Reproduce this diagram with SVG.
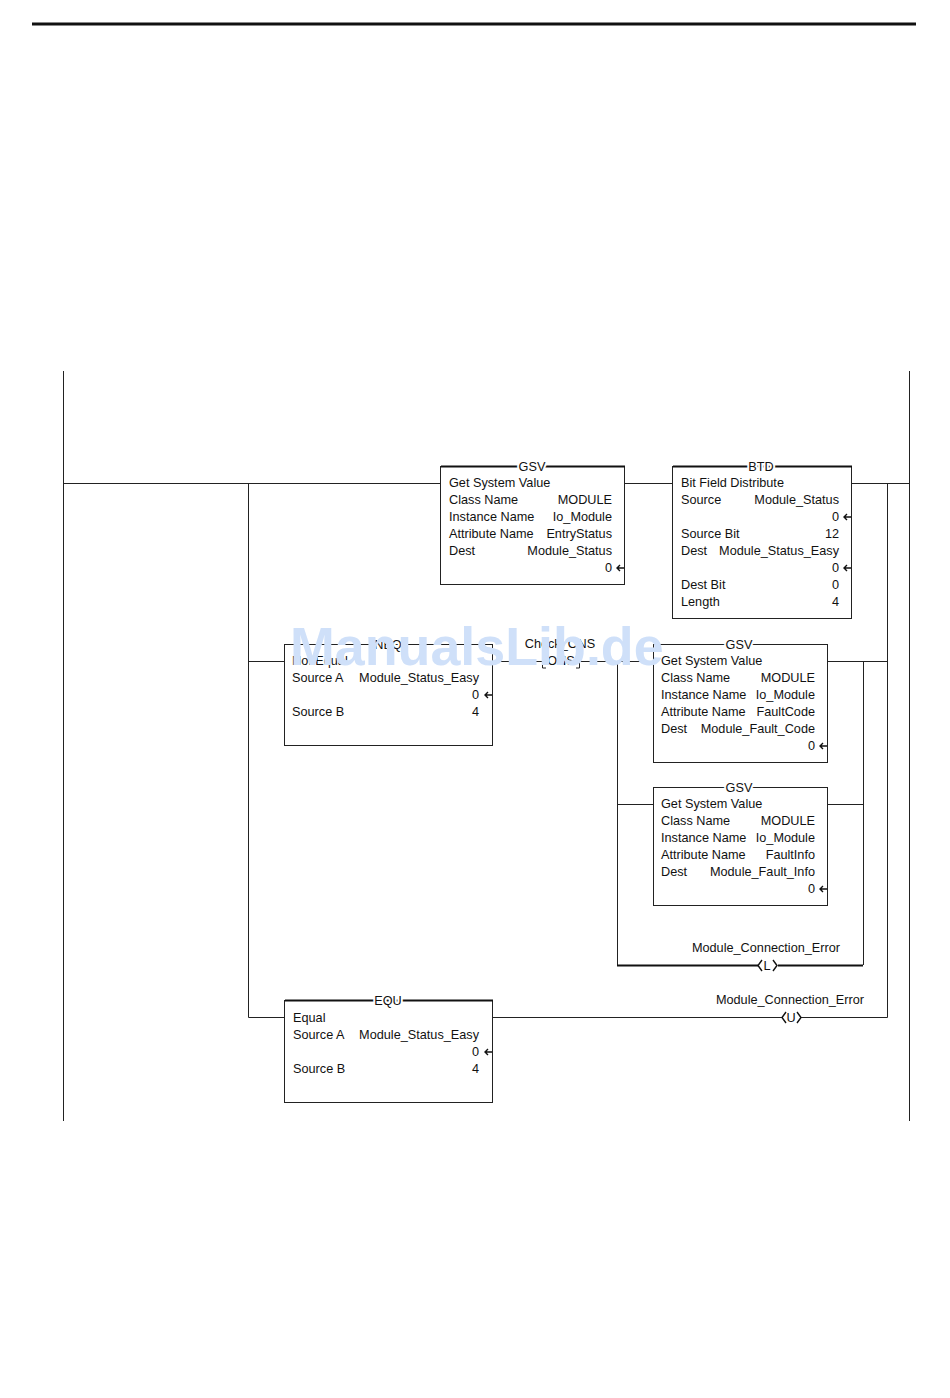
<svg xmlns="http://www.w3.org/2000/svg" width="950" height="1398" viewBox="0 0 950 1398">
<style>
text{font-family:"Liberation Sans",Arial,sans-serif;font-size:12.7px;fill:#111}
.e{text-anchor:end}.m{text-anchor:middle}
.h{paint-order:stroke;stroke:#fff;stroke-width:4px}
.b{fill:#fff;stroke:#222;stroke-width:1}
.t{stroke:#111;stroke-width:2;fill:none}
.l{stroke:#222;stroke-width:1;fill:none}
.a{fill:none;stroke:#111;stroke-width:1.4}
text.w{font-size:53.800px;font-weight:bold;fill:#cfe0f9}
</style>
<defs>
<g id="arr"><path class="a" d="M0 0H-7M-4 -3L-7 0L-4 3"/></g>
</defs>
<rect width="950" height="1398" fill="#fff"/>
<path d="M32 24H916" stroke="#111" stroke-width="3"/>
<g id="connectors">
<path class="l" d="M63.500 371V1121M909.500 371V1121"/>
<path class="l" d="M64 483.500H441M625 483.500H673M852 483.500H909"/>
<path class="l" d="M248.500 483V1017.500H285M248 661.500H285M493 661.500H542M580 661.500H654M828 661.500H887"/>
<path class="l" d="M887.500 483V1017.500H800M782 1017.500H493"/>
<path class="l" d="M617.500 661V965M617 804.500H654M828 804.500H863.500M863.500 661V965"/>
<path class="t" d="M617 965.500H758M778 965.500H863"/>
</g>
<g id="gsv1">
<rect class="b" x="440.500" y="466.500" width="184" height="118"/>
<path class="t" d="M441 466.500H625"/>
<text class="m h" x="532" y="470.500">GSV</text>
<text x="449" y="487">Get System Value</text>
<text x="449" y="504">Class Name</text><text class="e" x="612" y="504">MODULE</text>
<text x="449" y="521">Instance Name</text><text class="e" x="612" y="521">Io_Module</text>
<text x="449" y="538">Attribute Name</text><text class="e" x="612" y="538">EntryStatus</text>
<text x="449" y="555">Dest</text><text class="e" x="612" y="555">Module_Status</text>
<text class="e" x="612" y="572">0</text><use href="#arr" x="624" y="568"/>
</g>
<g id="btd">
<rect class="b" x="672.500" y="466.500" width="179" height="152"/>
<path class="t" d="M673 466.500H852"/>
<text class="m h" x="761" y="470.500">BTD</text>
<text x="681" y="487">Bit Field Distribute</text>
<text x="681" y="504">Source</text><text class="e" x="839" y="504">Module_Status</text>
<text class="e" x="839" y="521">0</text><use href="#arr" x="851" y="517"/>
<text x="681" y="538">Source Bit</text><text class="e" x="839" y="538">12</text>
<text x="681" y="555">Dest</text><text class="e" x="839" y="555">Module_Status_Easy</text>
<text class="e" x="839" y="572">0</text><use href="#arr" x="851" y="568"/>
<text x="681" y="589">Dest Bit</text><text class="e" x="839" y="589">0</text>
<text x="681" y="606">Length</text><text class="e" x="839" y="606">4</text>
</g>
<g id="neq">
<rect class="b" x="284.500" y="644.500" width="208" height="101"/>
<text class="m h" x="388" y="648.500">NEQ</text>
<text x="292" y="665">Not Equal</text>
<text x="292" y="682">Source A</text><text class="e" x="479" y="682">Module_Status_Easy</text>
<text class="e" x="479" y="699">0</text><use href="#arr" x="492" y="695"/>
<text x="292" y="716">Source B</text><text class="e" x="479" y="716">4</text>
</g>
<g id="ons">
<text class="m" x="560" y="648">Check_ONS</text>
<path d="M546 655H542.500V668H546M576 655H579.500V668H576" class="l"/>
<text class="m h" x="561" y="665">ONS</text>
</g>
<g id="gsv2">
<rect class="b" x="653.500" y="644.500" width="174" height="118"/>
<text class="m h" x="739" y="648.500">GSV</text>
<text x="661" y="665">Get System Value</text>
<text x="661" y="682">Class Name</text><text class="e" x="815" y="682">MODULE</text>
<text x="661" y="699">Instance Name</text><text class="e" x="815" y="699">Io_Module</text>
<text x="661" y="716">Attribute Name</text><text class="e" x="815" y="716">FaultCode</text>
<text x="661" y="733">Dest</text><text class="e" x="815" y="733">Module_Fault_Code</text>
<text class="e" x="815" y="750">0</text><use href="#arr" x="827" y="746"/>
</g>
<g id="gsv3">
<rect class="b" x="653.500" y="787.500" width="174" height="118"/>
<text class="m h" x="739" y="791.500">GSV</text>
<text x="661" y="808">Get System Value</text>
<text x="661" y="825">Class Name</text><text class="e" x="815" y="825">MODULE</text>
<text x="661" y="842">Instance Name</text><text class="e" x="815" y="842">Io_Module</text>
<text x="661" y="859">Attribute Name</text><text class="e" x="815" y="859">FaultInfo</text>
<text x="661" y="876">Dest</text><text class="e" x="815" y="876">Module_Fault_Info</text>
<text class="e" x="815" y="893">0</text><use href="#arr" x="827" y="889"/>
</g>
<g id="otl">
<text class="m" x="766" y="952">Module_Connection_Error</text>
<text class="m" x="767" y="970">L</text>
<path class="a" d="M762 960L758 965.500L762 971M773 960L777 965.500L773 971"/>
</g>
<g id="otu">
<text class="m" x="790" y="1004">Module_Connection_Error</text>
<text class="m" x="791" y="1022">U</text>
<path class="a" d="M786 1012L782 1017.500L786 1023M797 1012L801 1017.500L797 1023"/>
</g>
<g id="equ">
<rect class="b" x="284.500" y="1000.500" width="208" height="102"/>
<path class="t" d="M285 1000.500H493"/>
<text class="m h" x="388" y="1004.500">EQU</text>
<text x="293" y="1022">Equal</text>
<text x="293" y="1039">Source A</text><text class="e" x="479" y="1039">Module_Status_Easy</text>
<text class="e" x="479" y="1056">0</text><use href="#arr" x="492" y="1052"/>
<text x="293" y="1073">Source B</text><text class="e" x="479" y="1073">4</text>
</g>
<text class="w" x="290" y="665">ManualsLib.de</text>
</svg>
